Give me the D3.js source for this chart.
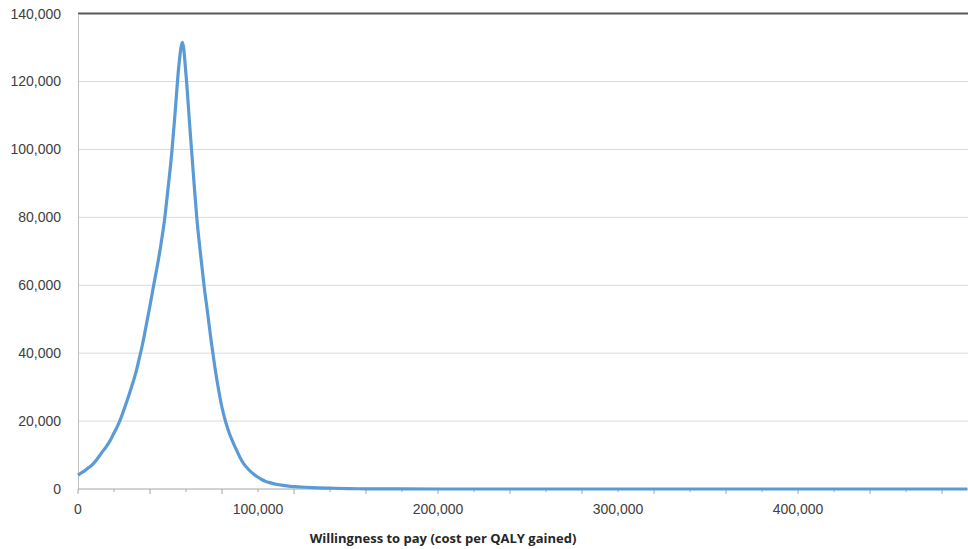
<!DOCTYPE html>
<html lang="en">
<head>
<meta charset="utf-8">
<title>Willingness to pay</title>
<style>
  body { margin: 0; background: #fff; }
  svg { display: block; font-family: "Open Sans", "Liberation Sans", sans-serif; }
  .tick-label { font-family: "Liberation Sans", Arial, sans-serif; font-size: 14px; fill: #404040; }
  .axis-title { font-size: 13px; font-weight: bold; fill: #262626; }
</style>
</head>
<body>
<svg id="chart"></svg>
<script src="https://d3js.org/d3.v7.min.js"></script>
<script>
  // willingness to pay (x) and value (y)
  const wtp = [0, 2000, 4000, 6000, 8000, 10000, 12000, 14000, 16000, 18000,
    20000, 22000, 24000, 26000, 28000, 30000, 32000, 34000, 36000, 38000,
    40000, 42000, 44000, 46000, 48000, 50000, 52000, 54000, 56000, 58000,
    60000, 62000, 64000, 66000, 68000, 70000, 72000, 74000, 76000, 78000,
    80000, 82000, 84000, 86000, 88000, 90000, 92000, 94000, 96000, 98000,
    100000, 102000, 104000, 106000, 108000, 110000, 114000, 118000, 122000, 126000,
    130000, 140000, 150000, 160000, 180000, 200000, 300000, 400000, 494000];
  const density = [4100, 4800, 5500, 6300, 7200, 8400, 9800, 11300, 12700, 14400,
    16500, 18600, 21100, 24100, 27200, 30500, 34000, 38400, 43000, 48500,
    54000, 59900, 65500, 71800, 79000, 88400, 98500, 111200, 124500, 131500,
    122000, 107500, 93300, 79800, 69500, 60000, 51800, 43500, 36000, 29500,
    24000, 19800, 16500, 13900, 11500, 9300, 7500, 6200, 5100, 4200,
    3450, 2800, 2300, 1950, 1650, 1400, 1050, 800, 650, 520,
    420, 250, 120, 60, 20, 0, 0, 0, 0];

  const yTicks = [0, 20000, 40000, 60000, 80000, 100000, 120000, 140000];
  const xLabels = [0, 100000, 200000, 300000, 400000];
  const xTickStep = 20000;
  const xTitle = "Willingness to pay (cost per QALY gained)";

  const width = 968, height = 549;
  const plotLeft = 78, plotRight = 968, plotTop = 13.6, plotBottom = 489;

  const svg = d3.select("#chart").attr("width", width).attr("height", height);

  const x = d3.scaleLinear().domain([0, 494400]).range([plotLeft, plotRight]);
  const y = d3.scaleLinear().domain([0, 140000]).range([plotBottom, plotTop]);
  const fmt = d3.format(",");

  // gridlines
  svg.append("g").selectAll("line")
    .data(yTicks.filter(d => d > 0 && d < 140000))
    .join("line")
    .attr("x1", plotLeft).attr("x2", plotRight)
    .attr("y1", d => y(d)).attr("y2", d => y(d))
    .attr("stroke", "#d9d9d9").attr("stroke-width", 1);

  // top border line
  svg.append("line")
    .attr("x1", plotLeft).attr("x2", plotRight)
    .attr("y1", y(140000)).attr("y2", y(140000))
    .attr("stroke", "#595959").attr("stroke-width", 2);

  // y axis
  const yAxis = svg.append("g")
    .attr("transform", `translate(${plotLeft},0)`)
    .call(d3.axisLeft(y).tickValues(yTicks).tickFormat(fmt).tickSize(0).tickPadding(17));
  yAxis.select(".domain").attr("stroke", "#bfbfbf");
  yAxis.attr("font-family", null).attr("font-size", null);
  yAxis.selectAll("text").attr("class", "tick-label");

  // x axis: tick marks every 20,000, alternating long/short
  const xTickVals = d3.range(0, 494400, xTickStep);
  const xAxisG = svg.append("g").attr("transform", `translate(0,${plotBottom})`);
  xAxisG.append("line")
    .attr("x1", plotLeft).attr("x2", plotRight)
    .attr("stroke", "#a6a6a6").attr("stroke-width", 1);
  xAxisG.selectAll("line.tk")
    .data(xTickVals)
    .join("line")
    .attr("class", "tk")
    .attr("x1", d => x(d)).attr("x2", d => x(d))
    .attr("y1", 0).attr("y2", (d, i) => i % 2 === 0 ? 5 : 3)
    .attr("stroke", "#a6a6a6").attr("stroke-width", 1);
  xAxisG.selectAll("text")
    .data(xLabels)
    .join("text")
    .attr("class", "tick-label")
    .attr("x", d => x(d)).attr("y", 25)
    .attr("text-anchor", "middle")
    .text(fmt);

  svg.append("text")
    .attr("class", "axis-title")
    .attr("x", 443).attr("y", 543)
    .attr("text-anchor", "middle")
    .text(xTitle);

  // the curve
  const pts = wtp.map((d, i) => [d, density[i]]);
  svg.append("path")
    .datum(pts)
    .attr("fill", "none")
    .attr("stroke", "#5b9bd5")
    .attr("stroke-width", 3.2)
    .attr("stroke-linejoin", "round")
    .attr("d", d3.line().x(d => x(d[0])).y(d => y(d[1])).curve(d3.curveMonotoneX));
</script>
</body>
</html>
